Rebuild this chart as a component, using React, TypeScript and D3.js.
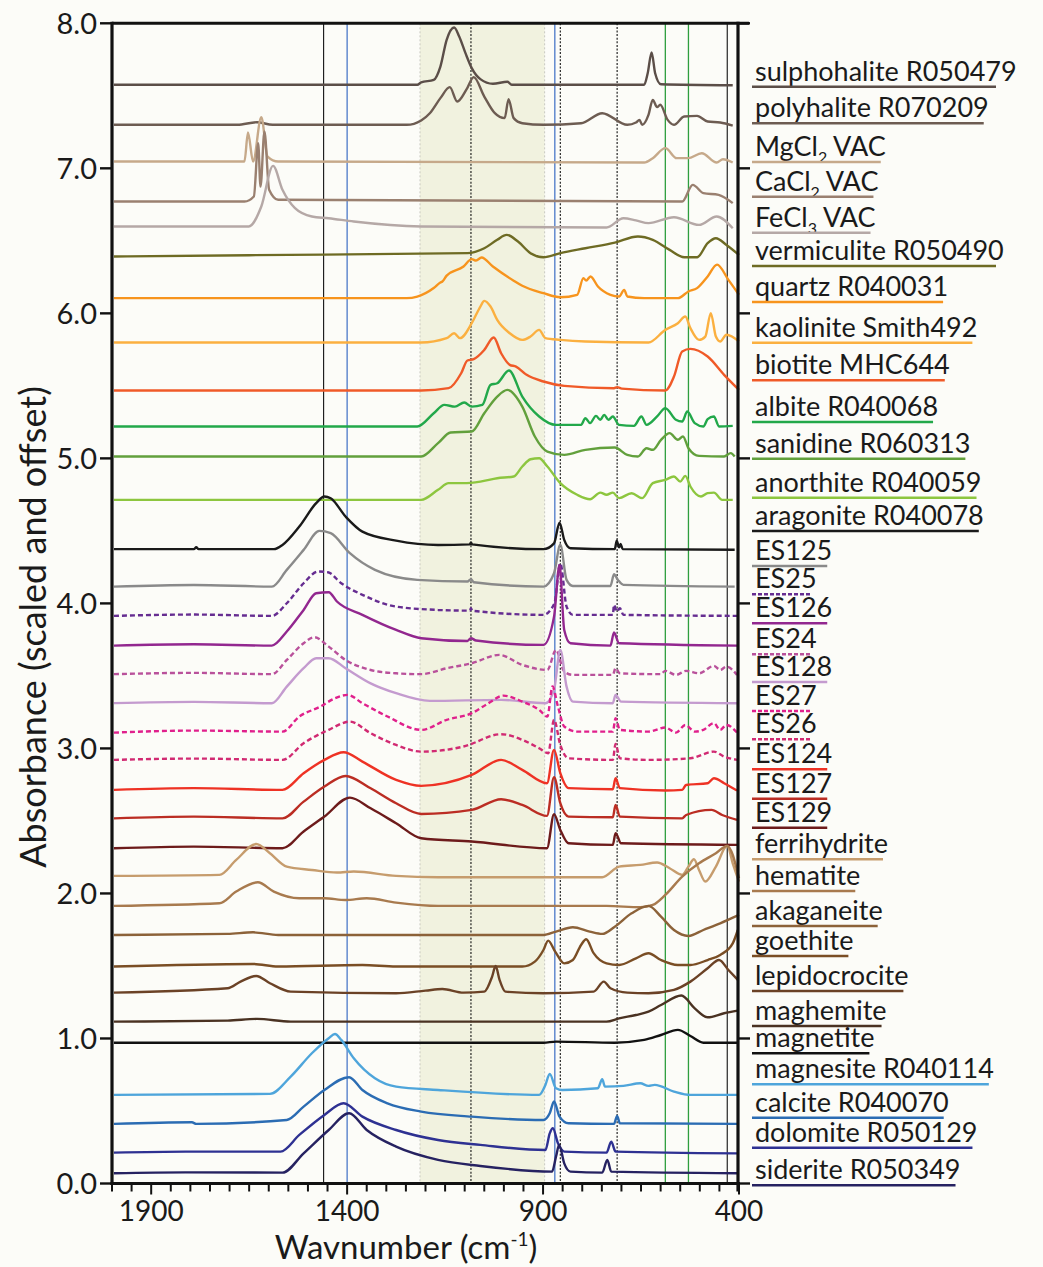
import React, { useLayoutEffect, useRef, useState } from 'react';
import * as d3 from 'd3';

type Pt = [number, number];

// spectra: [wavenumber cm-1, absorbance (scaled and offset)]
const sulphohalite: Pt[] = [[1995, 7.576], [1221, 7.576], [1211, 7.592], [1179, 7.61], [1162, 7.702], [1146, 7.886], [1127, 7.971], [1114, 7.909], [1098, 7.794], [1082, 7.691], [1060, 7.615], [1028, 7.583], [991, 7.597], [980, 7.576], [642, 7.576], [633, 7.656], [623, 7.799], [614, 7.656], [599, 7.58], [416, 7.573]];
const polyhalite: Pt[] = [[1995, 7.3], [1680, 7.3], [1630, 7.318], [1590, 7.3], [1248, 7.3], [1211, 7.33], [1189, 7.38], [1162, 7.484], [1138, 7.56], [1119, 7.461], [1095, 7.546], [1077, 7.629], [1050, 7.495], [1023, 7.38], [998, 7.346], [988, 7.477], [975, 7.346], [953, 7.311], [899, 7.3], [803, 7.311], [749, 7.38], [685, 7.3], [663, 7.316], [654, 7.334], [647, 7.3], [631, 7.369], [620, 7.472], [609, 7.422], [601, 7.438], [582, 7.334], [566, 7.3], [540, 7.357], [507, 7.362], [480, 7.323], [448, 7.316], [416, 7.295]];
const mgcl2: Pt[] = [[1995, 7.047], [1662, 7.047], [1653, 7.247], [1640, 7.047], [1619, 7.353], [1603, 7.081], [1576, 7.047], [642, 7.04], [620, 7.07], [588, 7.139], [559, 7.07], [530, 7.07], [495, 7.104], [457, 7.04], [441, 7.063], [416, 7.04]];
const cacl2: Pt[] = [[1995, 6.771], [1662, 6.771], [1638, 6.806], [1627, 7.173], [1621, 6.874], [1611, 7.254], [1599, 6.852], [1576, 6.783], [545, 6.771], [518, 6.886], [491, 6.829], [452, 6.817], [416, 6.76]];
const fecl3: Pt[] = [[1995, 6.599], [1651, 6.599], [1619, 6.737], [1589, 7.017], [1565, 6.852], [1533, 6.725], [1490, 6.668], [1447, 6.656], [1383, 6.633], [1211, 6.599], [738, 6.592], [695, 6.656], [663, 6.641], [631, 6.622], [566, 6.663], [502, 6.61], [457, 6.668], [416, 6.587]];
const vermiculite: Pt[] = [[1995, 6.392], [1651, 6.401], [1093, 6.415], [1050, 6.449], [1017, 6.507], [993, 6.541], [964, 6.495], [932, 6.415], [899, 6.387], [856, 6.415], [792, 6.449], [717, 6.488], [658, 6.53], [620, 6.507], [577, 6.438], [540, 6.387], [507, 6.387], [480, 6.484], [459, 6.518], [432, 6.472], [400, 6.403]];
const quartz: Pt[] = [[1995, 6.105], [1248, 6.105], [1221, 6.116], [1179, 6.175], [1162, 6.213], [1157, 6.22], [1146, 6.26], [1103, 6.323], [1082, 6.374], [1071, 6.364], [1057, 6.385], [1028, 6.323], [975, 6.225], [953, 6.19], [899, 6.139], [856, 6.111], [813, 6.128], [797, 6.243], [790, 6.226], [779, 6.254], [760, 6.185], [728, 6.128], [706, 6.116], [693, 6.162], [685, 6.116], [642, 6.105], [556, 6.105], [529, 6.151], [507, 6.174], [480, 6.254], [456, 6.336], [427, 6.231], [400, 6.128]];
const kaolinite: Pt[] = [[1995, 5.799], [1211, 5.799], [1146, 5.829], [1127, 5.863], [1112, 5.829], [1082, 5.932], [1060, 6.047], [1050, 6.086], [1034, 6.047], [1017, 5.955], [985, 5.863], [953, 5.817], [932, 5.84], [910, 5.886], [894, 5.829], [856, 5.817], [792, 5.806], [631, 5.799], [588, 5.886], [556, 5.932], [537, 5.978], [524, 5.898], [502, 5.817], [486, 5.84], [472, 6.001], [459, 5.84], [448, 5.806], [432, 5.852], [400, 5.806]];
const biotite: Pt[] = [[1995, 5.468], [1211, 5.468], [1141, 5.484], [1109, 5.587], [1093, 5.675], [1077, 5.684], [1050, 5.748], [1026, 5.833], [1007, 5.725], [985, 5.645], [969, 5.633], [942, 5.576], [899, 5.53], [846, 5.5], [719, 5.484], [711, 5.491], [699, 5.481], [588, 5.468], [566, 5.564], [545, 5.737], [524, 5.755], [480, 5.702], [438, 5.576], [400, 5.472]];
const albite: Pt[] = [[1995, 5.22], [1221, 5.22], [1179, 5.311], [1152, 5.369], [1125, 5.357], [1101, 5.385], [1082, 5.357], [1055, 5.369], [1034, 5.507], [1017, 5.518], [987, 5.606], [953, 5.426], [910, 5.289], [867, 5.231], [803, 5.231], [792, 5.277], [780, 5.243], [765, 5.293], [754, 5.266], [744, 5.3], [733, 5.266], [722, 5.289], [706, 5.231], [668, 5.224], [649, 5.289], [636, 5.231], [609, 5.289], [588, 5.346], [561, 5.266], [545, 5.254], [532, 5.323], [513, 5.243], [491, 5.22], [480, 5.27], [464, 5.289], [451, 5.22], [416, 5.224]];
const sanidine: Pt[] = [[1995, 5.013], [1211, 5.013], [1168, 5.105], [1136, 5.178], [1082, 5.185], [1050, 5.311], [1017, 5.426], [991, 5.472], [953, 5.357], [921, 5.151], [889, 5.047], [846, 5.024], [792, 5.059], [717, 5.075], [685, 5.024], [658, 5.013], [636, 5.07], [620, 5.059], [599, 5.128], [577, 5.174], [556, 5.128], [543, 5.151], [529, 5.07], [502, 5.017], [438, 5.013], [421, 5.036], [411, 5.013]];
const anorthite: Pt[] = [[1995, 4.714], [1211, 4.714], [1168, 4.783], [1141, 4.829], [1103, 4.829], [1060, 4.84], [1017, 4.863], [975, 4.875], [953, 4.944], [932, 4.994], [910, 5.001], [889, 4.944], [856, 4.829], [813, 4.749], [780, 4.718], [754, 4.764], [738, 4.749], [722, 4.764], [706, 4.726], [674, 4.76], [647, 4.726], [620, 4.829], [588, 4.852], [566, 4.875], [550, 4.84], [537, 4.879], [524, 4.806], [497, 4.737], [480, 4.76], [464, 4.764], [443, 4.714], [416, 4.714]];
const aragonite: Pt[] = [[1995, 4.374], [1791, 4.374], [1785, 4.387], [1779, 4.374], [1587, 4.374], [1565, 4.403], [1522, 4.53], [1479, 4.691], [1458, 4.737], [1442, 4.725], [1404, 4.599], [1361, 4.495], [1275, 4.433], [1168, 4.403], [1087, 4.407], [1084, 4.42], [1081, 4.407], [899, 4.374], [872, 4.414], [858, 4.557], [846, 4.438], [830, 4.38], [717, 4.374], [712, 4.433], [706, 4.387], [702, 4.41], [697, 4.374], [411, 4.37]];
const es125: Pt[] = [[1995, 4.116], [1791, 4.127], [1592, 4.116], [1554, 4.231], [1511, 4.369], [1471, 4.5], [1442, 4.484], [1393, 4.346], [1329, 4.231], [1221, 4.162], [1093, 4.151], [1084, 4.167], [1077, 4.146], [899, 4.116], [872, 4.208], [856, 4.404], [840, 4.162], [824, 4.12], [728, 4.12], [719, 4.201], [709, 4.162], [695, 4.128], [411, 4.116]];
const es25: Pt[] = [[1995, 3.914], [1791, 3.923], [1592, 3.914], [1554, 4.001], [1511, 4.139], [1474, 4.22], [1449, 4.215], [1415, 4.139], [1361, 4.059], [1275, 3.978], [1168, 3.955], [1087, 3.95], [1084, 3.967], [1081, 3.95], [899, 3.921], [871, 4.001], [856, 4.277], [840, 3.978], [824, 3.921], [722, 3.921], [719, 3.99], [712, 3.944], [704, 3.967], [695, 3.921], [405, 3.914]];
const es126: Pt[] = [[1995, 3.709], [1791, 3.718], [1592, 3.709], [1554, 3.806], [1511, 3.955], [1479, 4.07], [1447, 4.077], [1426, 4.013], [1361, 3.921], [1275, 3.817], [1211, 3.76], [1093, 3.741], [1084, 3.76], [1071, 3.744], [899, 3.714], [872, 3.909], [858, 4.265], [846, 3.817], [830, 3.725], [728, 3.709], [719, 3.799], [706, 3.725], [405, 3.709]];
const es24: Pt[] = [[1995, 3.512], [1791, 3.521], [1592, 3.512], [1554, 3.61], [1511, 3.725], [1484, 3.767], [1447, 3.702], [1404, 3.61], [1340, 3.541], [1275, 3.518], [1211, 3.512], [1146, 3.553], [1082, 3.587], [1012, 3.645], [953, 3.576], [889, 3.541], [867, 3.679], [846, 3.53], [824, 3.507], [722, 3.507], [715, 3.553], [704, 3.518], [600, 3.512], [588, 3.535], [561, 3.507], [535, 3.535], [502, 3.518], [464, 3.569], [448, 3.541], [432, 3.564], [405, 3.507]];
const es128: Pt[] = [[1995, 3.312], [1791, 3.321], [1592, 3.312], [1554, 3.426], [1511, 3.553], [1479, 3.622], [1447, 3.622], [1404, 3.553], [1340, 3.449], [1275, 3.381], [1189, 3.328], [1007, 3.335], [894, 3.312], [872, 3.404], [856, 3.679], [840, 3.426], [824, 3.323], [722, 3.312], [715, 3.369], [701, 3.323], [405, 3.312]];
const es27: Pt[] = [[1995, 3.109], [1791, 3.123], [1565, 3.116], [1522, 3.22], [1468, 3.289], [1431, 3.346], [1399, 3.369], [1361, 3.312], [1297, 3.22], [1211, 3.128], [1146, 3.197], [1082, 3.243], [1039, 3.312], [1001, 3.364], [953, 3.323], [910, 3.266], [889, 3.22], [876, 3.427], [862, 3.289], [846, 3.151], [813, 3.116], [722, 3.116], [715, 3.208], [704, 3.128], [631, 3.116], [588, 3.144], [561, 3.109], [537, 3.162], [513, 3.116], [491, 3.128], [464, 3.174], [448, 3.128], [432, 3.162], [405, 3.109]];
const es26: Pt[] = [[1995, 2.921], [1791, 2.93], [1565, 2.921], [1511, 3.036], [1447, 3.128], [1393, 3.185], [1340, 3.105], [1275, 3.024], [1211, 2.978], [1103, 3.013], [1007, 3.098], [953, 3.059], [910, 3.001], [887, 2.967], [872, 3.197], [856, 3.024], [835, 2.932], [722, 2.921], [715, 3.031], [704, 2.932], [631, 2.921], [524, 2.932], [464, 2.978], [438, 2.944], [405, 2.921]];
const es124: Pt[] = [[1995, 2.714], [1791, 2.726], [1565, 2.714], [1511, 2.829], [1458, 2.921], [1409, 2.974], [1361, 2.909], [1275, 2.783], [1211, 2.742], [1082, 2.817], [1007, 2.921], [953, 2.852], [890, 2.76], [872, 2.99], [856, 2.829], [835, 2.726], [722, 2.719], [715, 2.794], [704, 2.726], [588, 2.71], [545, 2.714], [535, 2.748], [480, 2.76], [464, 2.794], [438, 2.76], [405, 2.71]];
const es127: Pt[] = [[1995, 2.518], [1791, 2.53], [1565, 2.518], [1511, 2.633], [1458, 2.737], [1404, 2.81], [1340, 2.725], [1275, 2.622], [1211, 2.548], [1082, 2.576], [1007, 2.65], [953, 2.61], [890, 2.535], [872, 2.801], [856, 2.622], [835, 2.53], [722, 2.525], [715, 2.61], [704, 2.53], [545, 2.518], [535, 2.541], [470, 2.576], [443, 2.541], [405, 2.507]];
const es129: Pt[] = [[1995, 2.312], [1791, 2.323], [1565, 2.312], [1511, 2.427], [1458, 2.53], [1393, 2.661], [1340, 2.587], [1275, 2.484], [1211, 2.381], [1082, 2.358], [890, 2.312], [872, 2.546], [856, 2.438], [835, 2.346], [722, 2.335], [715, 2.415], [701, 2.346], [405, 2.335]];
const ferrihydrite: Pt[] = [[1995, 2.121], [1726, 2.128], [1683, 2.231], [1632, 2.341], [1597, 2.277], [1554, 2.185], [1490, 2.162], [1426, 2.144], [1383, 2.151], [1275, 2.121], [1168, 2.112], [749, 2.112], [706, 2.185], [652, 2.197], [609, 2.213], [577, 2.174], [545, 2.128], [529, 2.185], [515, 2.236], [502, 2.162], [486, 2.082], [459, 2.185], [430, 2.328], [416, 2.208], [400, 2.082]];
const hematite: Pt[] = [[1995, 1.914], [1726, 1.932], [1683, 2.013], [1628, 2.077], [1587, 2.013], [1522, 1.967], [1458, 1.967], [1404, 1.955], [1350, 1.967], [1275, 1.937], [1168, 1.914], [738, 1.914], [652, 1.905], [620, 1.921], [588, 1.99], [545, 2.116], [502, 2.208], [459, 2.277], [430, 2.328], [400, 2.105]];
const akaganeite: Pt[] = [[1995, 1.714], [1705, 1.721], [1640, 1.732], [1576, 1.714], [899, 1.714], [867, 1.737], [824, 1.767], [781, 1.737], [749, 1.721], [717, 1.771], [674, 1.863], [631, 1.914], [599, 1.84], [566, 1.748], [529, 1.707], [491, 1.748], [448, 1.794], [400, 1.852]];
const goethite: Pt[] = [[1995, 1.496], [1640, 1.514], [1576, 1.496], [1361, 1.507], [1275, 1.496], [953, 1.496], [921, 1.53], [899, 1.61], [887, 1.675], [869, 1.599], [846, 1.518], [824, 1.541], [803, 1.645], [790, 1.684], [771, 1.588], [738, 1.518], [706, 1.507], [663, 1.553], [631, 1.588], [599, 1.541], [556, 1.507], [524, 1.507], [480, 1.541], [448, 1.576], [416, 1.656], [403, 1.748]];
const lepidocrocite: Pt[] = [[1995, 1.316], [1705, 1.346], [1672, 1.392], [1632, 1.431], [1597, 1.381], [1544, 1.323], [1275, 1.312], [1200, 1.33], [1157, 1.341], [1103, 1.316], [1050, 1.323], [1030, 1.427], [1021, 1.5], [1011, 1.404], [996, 1.323], [899, 1.312], [771, 1.323], [745, 1.392], [728, 1.346], [685, 1.316], [631, 1.312], [566, 1.335], [524, 1.392], [480, 1.484], [451, 1.541], [427, 1.472], [403, 1.404]];
const maghemite: Pt[] = [[1995, 1.116], [1705, 1.123], [1630, 1.135], [1544, 1.116], [738, 1.116], [706, 1.139], [663, 1.162], [631, 1.185], [599, 1.231], [547, 1.296], [513, 1.208], [480, 1.146], [438, 1.174], [403, 1.192]];
const magnetite: Pt[] = [[1995, 0.971], [899, 0.971], [867, 0.978], [717, 0.971], [642, 0.99], [599, 1.024], [556, 1.059], [524, 1.017], [491, 0.971], [405, 0.971]];
const magnesite: Pt[] = [[1995, 0.611], [1597, 0.618], [1544, 0.737], [1490, 0.898], [1447, 1.002], [1431, 1.031], [1415, 0.99], [1383, 0.864], [1329, 0.726], [1275, 0.668], [1168, 0.645], [910, 0.611], [894, 0.68], [883, 0.756], [867, 0.657], [851, 0.645], [760, 0.657], [749, 0.719], [742, 0.668], [695, 0.673], [652, 0.691], [631, 0.673], [615, 0.68], [566, 0.634], [524, 0.611], [405, 0.611]];
const calcite: Pt[] = [[1995, 0.411], [1796, 0.422], [1785, 0.411], [1554, 0.438], [1511, 0.53], [1458, 0.645], [1395, 0.733], [1361, 0.645], [1297, 0.553], [1211, 0.496], [1082, 0.461], [899, 0.438], [883, 0.484], [872, 0.565], [858, 0.461], [835, 0.415], [719, 0.411], [711, 0.466], [704, 0.415], [405, 0.411]];
const dolomite: Pt[] = [[1995, 0.213], [1812, 0.22], [1570, 0.22], [1522, 0.335], [1458, 0.473], [1409, 0.553], [1361, 0.461], [1275, 0.369], [1168, 0.3], [1060, 0.266], [894, 0.231], [883, 0.346], [875, 0.381], [862, 0.277], [846, 0.22], [738, 0.213], [726, 0.289], [715, 0.22], [405, 0.208]];
const siderite: Pt[] = [[1995, 0.071], [1812, 0.077], [1565, 0.075], [1511, 0.208], [1447, 0.369], [1395, 0.484], [1350, 0.369], [1275, 0.254], [1168, 0.163], [1060, 0.121], [877, 0.082], [867, 0.185], [859, 0.266], [846, 0.139], [830, 0.082], [749, 0.075], [736, 0.163], [726, 0.082], [405, 0.071]];

const spectra: Pt[][] = [
  sulphohalite, polyhalite, mgcl2, cacl2, fecl3, vermiculite, quartz, kaolinite, biotite,
  albite, sanidine, anorthite, aragonite, es125, es25, es126, es24, es128, es27, es26,
  es124, es127, es129, ferrihydrite, hematite, akaganeite, goethite, lepidocrocite,
  maghemite, magnetite, magnesite, calcite, dolomite, siderite,
];

// "_n" marks a subscript digit
const labels = [
  'sulphohalite R050479', 'polyhalite R070209', 'MgCl_2 VAC', 'CaCl_2 VAC', 'FeCl_3 VAC',
  'vermiculite R050490', 'quartz R040031', 'kaolinite Smith492', 'biotite MHC644',
  'albite R040068', 'sanidine R060313', 'anorthite R040059', 'aragonite R040078',
  'ES125', 'ES25', 'ES126', 'ES24', 'ES128', 'ES27', 'ES26', 'ES124', 'ES127', 'ES129',
  'ferrihydrite', 'hematite', 'akaganeite', 'goethite', 'lepidocrocite', 'maghemite',
  'magnetite', 'magnesite R040114', 'calcite R040070', 'dolomite R050129', 'siderite R050349',
];

const colors = [
  '#5b4e48', '#6d5c52', '#c6a98a', '#9a8070', '#b5a8a6', '#6e6b24', '#f7941d', '#fbb040',
  '#f05a28', '#22a84a', '#62a03c', '#8dc63f', '#1a1a1a', '#8a8a8a', '#662d91', '#92278f',
  '#b9519b', '#c49bcf', '#e0208c', '#d12a72', '#ee3224', '#bb2d23', '#6d1b1b', '#c69c6d',
  '#a87a4e', '#8c6239', '#7a4e25', '#6b4226', '#4a3222', '#111111', '#4ea5db', '#2b6cb3',
  '#2e3192', '#262261',
];
const dashed = new Set(['ES25', 'ES24', 'ES27', 'ES26']);

// reference lines (cm-1)
const shadeBand = [1214, 896];
const blackLines = [1460, 430];
const blueLines = [1400, 870];
const dottedLines = [1084, 856, 711];
const greenLines = [588, 529];

const yTicks = [0, 1, 2, 3, 4, 5, 6, 7, 8];
const xLabelTicks = [1900, 1400, 900, 400];

// label column layout (baseline y in px)
const labelY = [80.7, 117.3, 156, 190.7, 226.7, 260, 296, 336.7, 374.3, 416, 452.7, 491.7, 525,
  560, 588.3, 617.3, 648.3, 676, 705, 733.3, 763.3, 792.7, 821.7, 853.3, 885, 920, 950, 985,
  1020, 1047.3, 1078.3, 1111.7, 1141.7, 1179.3];

const W = 1043;
const H = 1267;
const X0 = 112;
const X1 = 739;
const Y0 = 1183.5;
const Y8 = 23.3;
const FONT = 'Lato, "Open Sans", sans-serif';

const x = d3.scaleLinear().domain([2000, 400]).range([X0, X1]);
const y = d3.scaleLinear().domain([0, 8]).range([Y0, Y8]);
const line = d3.line<Pt>().x(d => x(d[0])).y(d => y(d[1])).curve(d3.curveMonotoneX);

function LabelText({ text }: { text: string }) {
  const parts = text.split(/_(\d)/);
  if (parts.length === 1) return <>{text}</>;
  return (
    <>
      <tspan>{parts[0]}</tspan>
      <tspan fontSize={16} dy={7}>{parts[1]}</tspan>
      <tspan dy={-7}>{parts[2]}</tspan>
    </>
  );
}

export default function App() {
  const refs = useRef<(SVGTextElement | null)[]>([]);
  const [widths, setWidths] = useState<number[]>([]);

  useLayoutEffect(() => {
    setWidths(refs.current.map(el => (el ? el.getComputedTextLength() : 100)));
  }, []);

  const minorTicks = d3.range(2000, 399, -50);

  return (
    <svg width={W} height={H} style={{ position: 'absolute', left: 0, top: 0 }} fontFamily={FONT}>
      <rect width={W} height={H} fill="#fcfcf8" />

      {/* shaded band */}
      <rect x={x(shadeBand[0])} y={Y8} width={x(shadeBand[1]) - x(shadeBand[0])} height={Y0 - Y8} fill="#f1f2df" />
      {shadeBand.map(v => (
        <line key={v} x1={x(v)} x2={x(v)} y1={Y8} y2={Y0} stroke="#c9c9c0" strokeWidth={1} strokeDasharray="2,2" />
      ))}

      {blackLines.map(v => (
        <line key={'k' + v} x1={x(v)} x2={x(v)} y1={Y8} y2={Y0} stroke="#111" strokeWidth={1.1} />
      ))}
      {blueLines.map(v => (
        <line key={'b' + v} x1={x(v)} x2={x(v)} y1={Y8} y2={Y0} stroke="#4a78c8" strokeWidth={1.3} />
      ))}
      {dottedLines.map(v => (
        <line key={'d' + v} x1={x(v)} x2={x(v)} y1={Y8} y2={Y0} stroke="#111" strokeWidth={1.1} strokeDasharray="2,1.6" />
      ))}
      {greenLines.map(v => (
        <line key={'g' + v} x1={x(v)} x2={x(v)} y1={Y8} y2={Y0} stroke="#2e9e3e" strokeWidth={1.3} />
      ))}

      {/* spectra */}
      {spectra.map((s, i) => (
        <path
          key={labels[i]}
          d={line(s) || ''}
          fill="none"
          stroke={colors[i]}
          strokeWidth={2.4}
          strokeLinejoin="round"
          strokeDasharray={dashed.has(labels[i]) ? '5,3' : undefined}
        />
      ))}

      {/* frame */}
      <line x1={X0} x2={749} y1={Y8} y2={Y8} stroke="#111" strokeWidth={3} />
      <line x1={X0} x2={X0} y1={Y8 - 1.5} y2={Y0 + 1.5} stroke="#111" strokeWidth={3.2} />
      <line x1={X1 - 1} x2={X1 - 1} y1={Y8 - 1.5} y2={Y0 + 8} stroke="#111" strokeWidth={3.2} />
      <line x1={X0 - 1.5} x2={X1 + 1} y1={Y0} y2={Y0} stroke="#111" strokeWidth={3.2} />

      {yTicks.map(t => (
        <g key={'yt' + t}>
          <line x1={X0 - 12} x2={X0} y1={y(t)} y2={y(t)} stroke="#111" strokeWidth={2.4} />
          <line x1={X1} x2={X1 + 11} y1={y(t)} y2={y(t)} stroke="#111" strokeWidth={2.4} />
          <text x={97} y={y(t)} dy="0.36em" textAnchor="end" fontSize={29} fill="#1a1a1a">
            {t.toFixed(1)}
          </text>
        </g>
      ))}

      {minorTicks.map(t => (
        <line
          key={'xt' + t}
          x1={x(t)}
          x2={x(t)}
          y1={Y0}
          y2={Y0 + (xLabelTicks.includes(t) ? 11 : 8)}
          stroke="#111"
          strokeWidth={2}
        />
      ))}
      {xLabelTicks.map(t => (
        <text key={'xl' + t} x={x(t)} y={1221} textAnchor="middle" fontSize={28} fill="#1a1a1a">
          {t}
        </text>
      ))}

      <text x={406} y={1259} textAnchor="middle" fontSize={33} fill="#1a1a1a">
        Wavnumber (cm<tspan fontSize={19} dy={-13}>-1</tspan><tspan dy={13}>)</tspan>
      </text>
      <text transform="translate(46,627) rotate(-90)" textAnchor="middle" fontSize={36} fill="#1a1a1a">
        Absorbance (scaled and offset)
      </text>

      {/* labels */}
      {labels.map((lab, i) => {
        const w = widths[i] ?? 100;
        return (
          <g key={'lab' + lab}>
            <text
              ref={el => {
                refs.current[i] = el;
              }}
              x={755}
              y={labelY[i]}
              fontSize={27}
              fill="#1a1a1a"
            >
              <LabelText text={lab} />
            </text>
            <line
              x1={752}
              x2={752 + Math.min(w - 2, 244)}
              y1={labelY[i] + 6}
              y2={labelY[i] + 6}
              stroke={colors[i]}
              strokeWidth={2.6}
              strokeDasharray={dashed.has(lab) ? '4,2' : undefined}
            />
          </g>
        );
      })}
    </svg>
  );
}
